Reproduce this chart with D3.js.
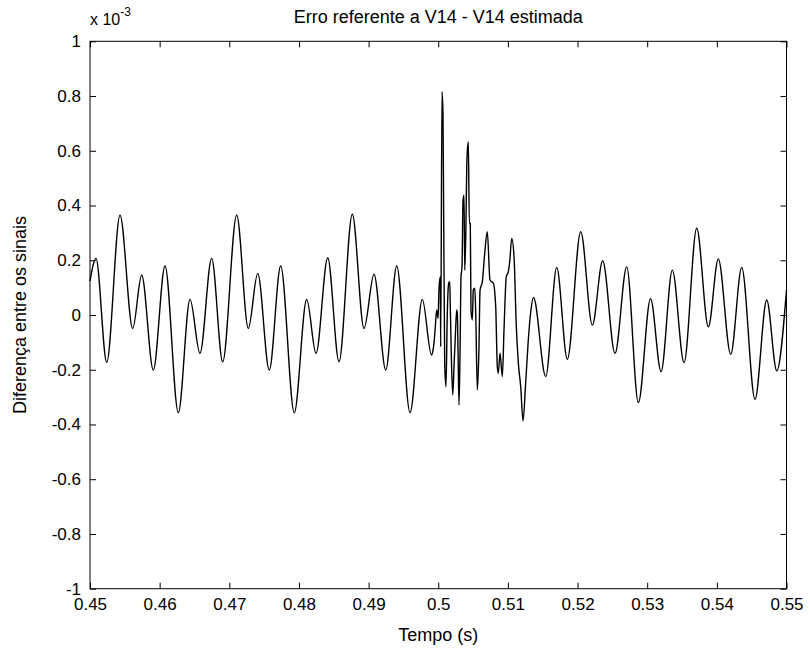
<!DOCTYPE html>
<html>
<head>
<meta charset="utf-8">
<script src="https://cdn.jsdelivr.net/npm/d3@7"></script>
<style>
  html, body { margin: 0; padding: 0; background: #fff; }
  svg text { font-family: "Liberation Sans", Arial, sans-serif; fill: #000; }
</style>
</head>
<body>
<svg id="chart" width="810" height="648"></svg>
<script>
// Time (s)
const time = [
  0.45000, 0.45086, 0.45240, 0.45431, 0.45613, 0.45742, 0.45909, 0.46077, 0.46268, 0.46436,
  0.46579, 0.46747, 0.46905, 0.47106, 0.47273, 0.47408, 0.47574, 0.47738, 0.47933, 0.48111,
  0.48245, 0.48413, 0.48575, 0.48766, 0.48934, 0.49078, 0.49246, 0.49404, 0.49595, 0.49771,
  0.49903, 0.49925, 0.49939, 0.49958, 0.49978, 0.49997, 0.50011, 0.50030, 0.50035, 0.50054,
  0.50068, 0.50078, 0.50093, 0.50111, 0.50130, 0.50150, 0.50165, 0.50173, 0.50188, 0.50208,
  0.50226, 0.50245, 0.50265, 0.50274, 0.50284, 0.50298, 0.50313, 0.50327, 0.50341, 0.50356,
  0.50370, 0.50380, 0.50394, 0.50413, 0.50432, 0.50446, 0.50460, 0.50470, 0.50489, 0.50503,
  0.50524, 0.50538, 0.50561, 0.50585, 0.50600, 0.50633, 0.50667, 0.50704, 0.50743, 0.50791,
  0.50825, 0.50848, 0.50862, 0.50887, 0.50920, 0.50944, 0.50977, 0.51006, 0.51026, 0.51055,
  0.51088, 0.51121, 0.51150, 0.51184, 0.51217, 0.51256, 0.51293, 0.51328, 0.51368, 0.51543,
  0.51701, 0.51853, 0.52046, 0.52212, 0.52361, 0.52538, 0.52706, 0.52873, 0.53048, 0.53199,
  0.53361, 0.53529, 0.53711, 0.53878, 0.54021, 0.54199, 0.54357, 0.54548, 0.54716, 0.54860,
  0.55000
];
// Difference between signals (x 10^-3)
const diff = [
  0.124, 0.207, -0.173, 0.365, -0.049, 0.146, -0.201, 0.179, -0.357, 0.057,
  -0.140, 0.207, -0.171, 0.365, -0.049, 0.152, -0.201, 0.179, -0.357, 0.057,
  -0.140, 0.209, -0.171, 0.368, -0.049, 0.149, -0.201, 0.179, -0.357, 0.057,
  -0.146, -0.128, -0.103, -0.043, 0.018, -0.012, 0.098, 0.140, -0.116, 0.816,
  0.737, 0.353, -0.183, -0.262, 0.006, 0.116, 0.122, 0.030, -0.152, -0.292,
  -0.189, -0.079, 0.018, 0.006, -0.128, -0.329, -0.134, 0.140, 0.176, 0.420,
  0.438, 0.164, 0.274, 0.578, 0.633, 0.335, 0.335, 0.018, -0.018, 0.091,
  0.098, 0.006, -0.274, -0.116, 0.091, 0.122, 0.225, 0.304, 0.128, 0.116,
  0.030, -0.189, -0.213, -0.140, -0.225, -0.055, 0.140, 0.158, 0.195, 0.280,
  0.213, -0.043, -0.176, -0.262, -0.387, -0.244, -0.091, 0.012, 0.064, -0.225,
  0.174, -0.162, 0.304, -0.037, 0.198, -0.140, 0.176, -0.320, 0.060, -0.207,
  0.164, -0.174, 0.317, -0.043, 0.205, -0.144, 0.174, -0.308, 0.055, -0.204,
  0.091
];
const xTicks = [0.45, 0.46, 0.47, 0.48, 0.49, 0.5, 0.51, 0.52, 0.53, 0.54, 0.55];
const yTicks = [-1, -0.8, -0.6, -0.4, -0.2, 0, 0.2, 0.4, 0.6, 0.8, 1];
const titleText = "Erro referente a V14 - V14 estimada";
const xLabel = "Tempo (s)";
const yLabel = "Diferença entre os sinais";

const svg = d3.select("#chart");
const L = 90, R = 786.5, T = 41.3, B = 588.7;
const x = d3.scaleLinear().domain([0.45, 0.55]).range([L, R]);
const y = d3.scaleLinear().domain([-1, 1]).range([B, T]);
const fsTick = 17;
const fsLab = 18;
const tickLen = 6;

svg.append("rect").attr("x", L).attr("y", T).attr("width", R - L).attr("height", B - T)
  .attr("fill", "#fff");

// data line
const data = time.map((t, i) => ({ t, v: diff[i] }));
svg.append("path")
  .datum(data)
  .attr("fill", "none")
  .attr("stroke", "#000")
  .attr("stroke-width", 1.4)
  .attr("stroke-linejoin", "round")
  .attr("d", d3.line().x(d => x(d.t)).y(d => y(d.v)).curve(d3.curveMonotoneX));

// axes
const fmtX = d => String(+d.toFixed(2));
const fmtY = d => String(+d.toFixed(1));
const axB = svg.append("g").attr("transform", `translate(0,${B})`)
  .call(d3.axisBottom(x).tickValues(xTicks).tickFormat(fmtX).tickSizeInner(-tickLen).tickSizeOuter(0).tickPadding(9));
const axT = svg.append("g").attr("transform", `translate(0,${T})`)
  .call(d3.axisTop(x).tickValues(xTicks).tickFormat("").tickSizeInner(-tickLen).tickSizeOuter(0));
const axL = svg.append("g").attr("transform", `translate(${L},0)`)
  .call(d3.axisLeft(y).tickValues(yTicks).tickFormat(fmtY).tickSizeInner(-tickLen).tickSizeOuter(0).tickPadding(9));
const axR = svg.append("g").attr("transform", `translate(${R},0)`)
  .call(d3.axisRight(y).tickValues(yTicks).tickFormat("").tickSizeInner(-tickLen).tickSizeOuter(0));
[axB, axT, axL, axR].forEach(g => {
  g.selectAll("path.domain").remove();
  g.selectAll("line").attr("stroke", "#000").attr("stroke-width", 1);
  g.selectAll("text").attr("font-size", fsTick).attr("font-family", "Liberation Sans, Arial, sans-serif").attr("fill", "#000");
});
axB.selectAll("text").attr("dy", "0.71em");

// frame
svg.append("rect").attr("x", L).attr("y", T).attr("width", R - L).attr("height", B - T)
  .attr("fill", "none").attr("stroke", "#000").attr("stroke-width", 1);

// exponent label
const ex = svg.append("text").attr("x", L).attr("y", 25).attr("font-size", fsTick - 1);
ex.append("tspan").text("x 10");
ex.append("tspan").attr("dy", -9).attr("font-size", fsTick - 5).text("-3");

// title
svg.append("text").attr("x", (L + R) / 2).attr("y", 23).attr("text-anchor", "middle")
  .attr("font-size", fsLab).text(titleText);
// x label
svg.append("text").attr("x", (L + R) / 2).attr("y", 641).attr("text-anchor", "middle")
  .attr("font-size", fsLab).text(xLabel);
// y label
svg.append("text").attr("transform", `translate(26,${(T + B) / 2}) rotate(-90)`)
  .attr("text-anchor", "middle").attr("font-size", fsLab).text(yLabel);
</script>
</body>
</html>
